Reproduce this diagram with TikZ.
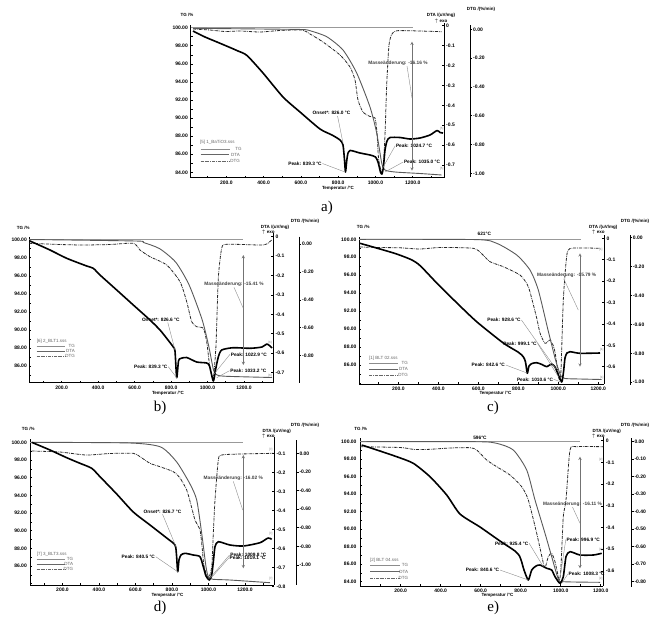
\documentclass[tikz,border=0pt]{standalone}
\usepackage{fontspec}
\setmainfont{Liberation Sans}
\newfontfamily\capfont{Liberation Serif}
\usepackage{tikz}

\begin{document}
\begin{tikzpicture}
[x=1pt,y=-1pt]
\tikzstyle{tick label}=[font=\bfseries\fontsize{5}{6}\selectfont,inner sep=0pt]
\tikzstyle{axis title}=[font=\bfseries\fontsize{4.5}{5}\selectfont,inner sep=0pt]
\tikzstyle{peak label}=[font=\bfseries\fontsize{4.8}{6}\selectfont,inner sep=0.6pt]
\tikzstyle{legend text}=[font=\fontsize{4.5}{5}\selectfont,inner sep=0pt,text=black!60]
\tikzstyle{file mark}=[font=\fontsize{3}{3}\selectfont,inner sep=0pt,text=black!50]
\tikzstyle{panel label}=[font=\capfont\fontsize{15}{16}\selectfont,inner sep=0pt]
\tikzstyle{axis line}=[line width=0.6pt]
\tikzstyle{dtg axis}=[line width=1pt]
\tikzstyle{base line}=[black!40,line width=0.7pt]
\tikzstyle{tg curve}=[black!65,line width=0.9pt,line join=round]
\tikzstyle{dta curve}=[black,line width=1.6pt,line join=round]
\tikzstyle{dtg curve}=[black!85,line width=0.8pt,dash pattern=on 3pt off 1pt on 0.6pt off 1pt]
\tikzstyle{lead line}=[black!45,line width=0.4pt]
\tikzstyle{mass arrow}=[black!55,line width=0.5pt,<->,>=stealth]
\tikzstyle{leg tg}=[black!45,line width=0.5pt]
\tikzstyle{leg dta}=[black!60,line width=1pt]
\tikzstyle{leg dtg}=[black!60,line width=0.5pt,dash pattern=on 3pt off 1pt on 0.6pt off 1pt]

\useasboundingbox (0,0) rectangle (656,622);

% a)
\draw[axis line] (190.5,25) -- (190.5,177.7) -- (444,177.7);
\draw[axis line] (444,23) -- (444,177.7);
\draw[dtg axis] (470,25) -- (470,177);
\foreach \i in {0,...,16} \draw[axis line] (190.5,{27.7+9.04*\i}) -- ++(2,0);
\foreach \tc in {100,200,...,1300} \draw[axis line] ({189+0.1865*\tc},177.7) -- ++(0,-2);
\foreach \lab [count=\i from 0] in {100.00,98.00,96.00,94.00,92.00,90.00,88.00,86.00,84.00}
  \node[tick label,anchor=east] (atl\i) at (188,{27.7+18.08*\i}) {\lab};
\foreach \tc in {200,400,...,1200}
  \node[tick label] (ax\tc) at ({189+0.1865*\tc},183) {\tc.0};
\foreach \lab [count=\i from 0] in {0,-0.1,-0.2,-0.3,-0.4,-0.5,-0.6,-0.7}{
  \draw[axis line] (444,{25.7+19.9*\i}) -- ++(-2,0);
  \node[tick label,anchor=west] (ada\i) at (446,{25.7+19.9*\i}) {\lab};}
\foreach \lab [count=\i from 0] in {0.00,-0.20,-0.40,-0.60,-0.80,-1.00}{
  \draw[axis line] (470,{29.3+28.8*\i}) -- ++(2,0);
  \node[tick label,anchor=west] (adg\i) at (473,{29.3+28.8*\i}) {\lab};}
\node[axis title] (atg) at (187,15) {TG /\%};
\node[axis title] (atemp) at (338,188.5) {Temperatur /°C};
\node[axis title] (adtg) at (481,9.5) {DTG /(\%/min)};
\node[axis title] (adta) at (441,15.5) {DTA /(uV/mg)};
\node[axis title] (aexo) at (441,21) {$\uparrow$ exo};

\draw[base line] (190.5,27.7) -- (413,27.7);
\draw[dtg curve] plot[smooth,tension=0.4] coordinates {(193,29) (210,30) (225,31.5) (240,31) (260,32) (280,30.5) (302,30) (310,34) (323,42) (340,55) (350,67) (355,80) (358,100) (363,112) (370,116.5) (375,118) (377,133) (378.5,158) (381,171) (383,170) (385,135) (386.7,85) (389,45) (392,34) (397,30.7) (420,31) (441.7,31.7)};
\draw[tg curve] plot[smooth,tension=0.4] coordinates {(193,28.3) (260,29) (302,29.5) (310,30.7) (326.7,36.7) (343,50) (356.7,73) (370,107) (376.7,133) (381.7,163) (385,170) (395,172) (420,173.5) (441.7,175)};
\draw[dta curve] plot[smooth,tension=0.4] coordinates {(193,31) (205,37) (217,42) (230,47.5) (238,51) (247,55.5) (263,73) (283,97) (300,112) (320,129) (332,135) (340,140) (343,145) (344.5,160) (345.5,172) (346.8,160) (348,153) (350,150.5) (353,151) (360,153) (370,155) (375.5,157) (378,162) (380.5,172) (382,174) (383.5,166) (385,150) (387,141) (390,137.5) (400,137.5) (410,139) (420,138) (430,135) (437,130.5) (440,132.5) (443,133)};

\node[peak label] (aon) at (331.5,113.3) {Onset*: 826.0 °C};
\coordinate (aonp) at (343,143);
\draw[lead line] ([xshift=6pt]aon.south) -- (aonp);
\node[peak label] (apk1) at (305,163.5) {Peak: 839.3 °C};
\coordinate (apk1p) at (345,172);
\draw[lead line] (apk1.east) -- (apk1p);
\node[peak label] (apk2) at (414,145.7) {Peak: 1024.7 °C};
\coordinate (apk2p) at (381.5,170);
\draw[lead line] (apk2.west) -- (apk2p);
\node[peak label] (apk3) at (422,162) {Peak: 1035.0 °C};
\coordinate (apk3p) at (385,172);
\draw[lead line] (apk3.west) -- (apk3p);
\coordinate (amt) at (412,41.7);
\coordinate (amb) at (412,170.7);
\draw[mass arrow] (amt) -- (amb);
\node[peak label,text=black!75] (amass) at (398,63) {Masseänderung: -16.16 \%};
\coordinate (amassp) at (412,98);
\draw[lead line] ([xshift=9pt]amass.south) -- (amassp);
\node[legend text,anchor=west] (aleg) at (200,142.7) {[5] 1\_BaTiO3.sss};
\draw[leg tg] (200.7,149) -- (230,149);
\draw[leg dta] (200.7,154.7) -- (229,154.7);
\draw[leg dtg] (200.7,161) -- (229,161);
\node[legend text,anchor=east] (alegtg) at (241.7,148.5) {TG};
\node[legend text,anchor=east] (alegdta) at (240,154.5) {DTA};
\node[legend text,anchor=east] (alegdtg) at (240,160.5) {DTG};
\node[file mark] (am1) at (441.7,128.3) {[5]};
\node[file mark] (am2) at (441.7,168.3) {[5]};
\node[panel label] (alab) at (327,208) {a)};

% b)
\draw[axis line] (29.3,237) -- (29.3,382.5) -- (273.3,382.5);
\draw[axis line] (273.3,233) -- (273.3,382.5);
\draw[dtg axis] (299.3,236.7) -- (299.3,382.7);
\foreach \i in {0,...,15} \draw[axis line] (29.3,{239.7+9.04*\i}) -- ++(2,0);
\foreach \tc in {100,200,...,1300} \draw[axis line] ({25.2+0.1823*\tc},382.5) -- ++(0,-2);
\foreach \lab [count=\i from 0] in {100.00,98.00,96.00,94.00,92.00,90.00,88.00,86.00}
  \node[tick label,anchor=east] (btl\i) at (27,{239.7+18.08*\i}) {\lab};
\foreach \tc in {200,400,...,1200}
  \node[tick label] (bx\tc) at ({25.2+0.1823*\tc},388) {\tc.0};
\foreach \lab [count=\i from 0] in {0,-0.1,-0.2,-0.3,-0.4,-0.5,-0.6,-0.7}{
  \draw[axis line] (273.3,{236.7+19.4*\i}) -- ++(-2,0);
  \node[tick label,anchor=west] (bda\i) at (275.5,{236.7+19.4*\i}) {\lab};}
\foreach \lab [count=\i from 0] in {0.00,-0.20,-0.40,-0.60,-0.80}{
  \draw[axis line] (299.3,{244+27.9*\i}) -- ++(2,0);
  \node[tick label,anchor=west] (bdg\i) at (302,{244+27.9*\i}) {\lab};}
\node[axis title] (btg) at (23.3,227.7) {TG /\%};
\node[axis title] (btemp) at (168,393.5) {Temperatur /°C};
\node[axis title] (bdtg) at (305,221) {DTG /(\%/min)};
\node[axis title] (bdta) at (275,227.3) {DTA /(uV/mg)};
\node[axis title] (bexo) at (268.3,232.7) {$\uparrow$ exo};

\draw[base line] (29.3,239.5) -- (243.3,239.5);
\draw[dtg curve] plot[smooth,tension=0.4] coordinates {(29.3,243.3) (60,244.5) (83.3,245) (110,244.5) (133.3,243.3) (140,250) (150,256.7) (166.7,265) (180,281.7) (186.7,301.7) (191.7,321.7) (196.7,326.7) (203.3,328.3) (206.7,341.7) (210,368.3) (213.3,377.7) (216,345) (218.3,278.3) (221.7,248.3) (226.7,244.3) (260,245) (266.7,244) (271.7,240)};
\draw[tg curve] plot[smooth,tension=0.4] coordinates {(29.3,239.5) (135.7,241) (143.5,242.5) (159.7,248.7) (175.8,262.3) (189.1,284.9) (202,319.3) (208.6,345.5) (213.5,370) (217,375) (226.6,376.3) (272,377.5)};
\draw[dta curve] plot[smooth,tension=0.4] coordinates {(29.3,240.7) (50,250) (66.7,258.3) (86.7,266) (93.3,268.3) (100,275) (116.7,290) (133.3,305) (150,320) (160,330) (168,340) (173.3,347) (175,351) (176.7,377.7) (178.5,361) (180.5,358.5) (186.7,357.5) (196.7,362) (206.7,363) (209.5,366) (213.3,381) (215.5,370) (218.3,357) (221.7,350) (233.3,347.7) (250,348.3) (262,347) (266.7,344) (270,346) (272,348)};

\node[peak label] (bon) at (160.8,320) {Onset*: 826.6 °C};
\coordinate (bonp) at (175,350);
\draw[lead line] ([xshift=7pt]bon.south) -- (bonp);
\node[peak label] (bpk1) at (150.8,366.7) {Peak: 839.3 °C};
\coordinate (bpk1p) at (176.7,377.7);
\draw[lead line] (bpk1.east) -- (bpk1p);
\node[peak label] (bpk2) at (248.8,354.3) {Peak: 1022.9 °C};
\coordinate (bpk2p) at (213.3,375);
\draw[lead line] (bpk2.west) -- (bpk2p);
\node[peak label] (bpk3) at (248.3,370.7) {Peak: 1033.2 °C};
\coordinate (bpk3p) at (216.7,377.7);
\draw[lead line] (bpk3.west) -- (bpk3p);
\coordinate (bmt) at (243.3,255);
\coordinate (bmb) at (243.3,365);
\draw[mass arrow] (bmt) -- (bmb);
\node[peak label,text=black!75] (bmass) at (234,284.3) {Masseänderung: -15.41 \%};
\coordinate (bmassp) at (243.3,308.3);
\draw[lead line] (bmass.south) -- (bmassp);
\node[legend text,anchor=west] (bleg) at (36.7,341) {[6] 2\_BLT1.sss};
\draw[leg tg] (36.7,346) -- (65,346);
\draw[leg dta] (36.7,351) -- (65,351);
\draw[leg dtg] (36.7,356) -- (65,356);
\node[legend text,anchor=east] (blegtg) at (75,345.5) {TG};
\node[legend text,anchor=east] (blegdta) at (75,350.7) {DTA};
\node[legend text,anchor=east] (blegdtg) at (75,355.8) {DTG};
\node[file mark] (bm1) at (270,342.3) {[6]};
\node[file mark] (bm2) at (270,376) {[6]};
\node[panel label] (blab) at (160,408) {b)};

% c)
\draw[axis line] (359.3,237) -- (359.3,384.3) -- (604,384.3);
\draw[axis line] (604,235) -- (604,384.3);
\draw[dtg axis] (630,235) -- (630,385);
\foreach \i in {0,...,16} \draw[axis line] (359.3,{239.3+8.98*\i}) -- ++(2,0);
\foreach \tc in {100,200,...,1200} \draw[axis line] ({358.3+0.2*\tc},384.3) -- ++(0,-2);
\foreach \lab [count=\i from 0] in {100.00,98.00,96.00,94.00,92.00,90.00,88.00,86.00}
  \node[tick label,anchor=east] (ctl\i) at (356.7,{239.3+17.96*\i}) {\lab};
\foreach \tc in {200,400,...,1200}
  \node[tick label] (cx\tc) at ({358.3+0.2*\tc},388.8) {\tc.0};
\foreach \lab [count=\i from 0] in {0,-0.1,-0.2,-0.3,-0.4,-0.5,-0.6}{
  \draw[axis line] (604,{238.3+21.4*\i}) -- ++(-2,0);
  \node[tick label,anchor=west] (cda\i) at (606.5,{238.3+21.4*\i}) {\lab};}
\foreach \lab [count=\i from 0] in {0.00,-0.20,-0.40,-0.60,-0.80,-1.00}{
  \draw[axis line] (630,{237.7+28.9*\i}) -- ++(2,0);
  \node[tick label,anchor=west] (cdg\i) at (632.7,{237.7+28.9*\i}) {\lab};}
\node[axis title] (ctg) at (363.3,226.7) {TG /\%};
\node[axis title] (ctemp) at (495.5,393.5) {Temperatur /°C};
\node[axis title] (cdtg) at (635,221) {DTG /(\%/min)};
\node[axis title] (cdta) at (603.3,227.3) {DTA /(uV/mg)};
\node[axis title] (cexo) at (598.3,232.3) {$\uparrow$ exo};
\node[peak label] (conset) at (484.3,234) {621°C};

\draw[base line] (359.3,239.3) -- (580.7,239.3);
\draw[dtg curve] plot[smooth,tension=0.4] coordinates {(360,247) (380,247.5) (400,247.8) (420,249) (440,247.5) (473.3,248.3) (482,254) (490,261.7) (503.3,266.7) (520,275) (527,284) (530,292) (536.7,318) (540,333) (545,343.3) (550,340) (553,345) (555,352) (558,372) (559.3,380) (561,370) (563.3,300) (566.7,256) (570,248.5) (585,248) (600,248.3)};
\draw[tg curve] plot[smooth,tension=0.4] coordinates {(360,239.3) (476.7,239.6) (496.7,243.3) (516.7,255) (530,270) (538.3,290) (548,330) (555,358) (558.3,369) (561,376) (565,378.5) (580,379) (601.7,379.5)};
\draw[dta curve] plot[smooth,tension=0.4] coordinates {(360,243.3) (380,249) (396.7,254) (412,260) (420.5,266) (437.7,284) (459,305) (477,322) (503.3,343) (518,352) (523.3,356.7) (525.5,362) (527.3,373.3) (529,366) (532,363.5) (536.7,362.7) (542,364.5) (546.7,366.7) (551.7,364) (555,367) (558,374) (561.7,382) (563.5,372) (565,358) (567,353) (570,351.7) (580,353.3) (600,353)};

\node[peak label] (cpk1) at (504,320) {Peak: 928.6 °C};
\coordinate (cpk1p) at (556,369);
\draw[lead line] (cpk1.east) -- (cpk1p);
\node[peak label] (cpk2) at (520,343.3) {Peak: 999.1 °C};
\coordinate (cpk2p) at (558.5,377);
\draw[lead line] (cpk2.east) -- (cpk2p);
\node[peak label] (cpk3) at (488.3,365) {Peak: 842.6 °C};
\coordinate (cpk3p) at (527,373);
\draw[lead line] (cpk3.east) -- (cpk3p);
\node[peak label] (cpk4) at (535,379.3) {Peak: 1010.6 °C};
\coordinate (cpk4p) at (561,382);
\draw[lead line] (cpk4.east) -- (cpk4p);
\coordinate (cmt) at (580,253.3);
\coordinate (cmb) at (580,366.7);
\draw[mass arrow] (cmt) -- (cmb);
\node[peak label,text=black!75] (cmass) at (566.7,275.7) {Masseänderung: -15.79 \%};
\coordinate (cmassp) at (578.3,310);
\draw[lead line] ([xshift=-3pt]cmass.south) -- (cmassp);
\node[legend text,anchor=west] (cleg) at (369,358.3) {[1] BLT 02.sss};
\draw[leg tg] (369,363.3) -- (398,363.3);
\draw[leg dta] (369,369) -- (398,369);
\draw[leg dtg] (369,375) -- (398,375);
\node[legend text,anchor=east] (clegtg) at (408,363) {TG};
\node[legend text,anchor=east] (clegdta) at (408,368.8) {DTA};
\node[legend text,anchor=east] (clegdtg) at (408,374.8) {DTG};
\node[file mark] (cm1) at (600.7,250) {[1]};
\node[file mark] (cm2) at (601.7,350) {[1]};
\node[file mark] (cm3) at (601.7,377.3) {[1]};
\node[panel label] (clab) at (493,408) {c)};

% d)
\draw[axis line] (30,439) -- (30,585) -- (274,585);
\draw[axis line] (274,437) -- (274,585);
\draw[dtg axis] (296.7,440) -- (296.7,585);
\foreach \i in {0,...,16} \draw[axis line] (30,{442.3+8.84*\i}) -- ++(2,0);
\foreach \tc in {100,200,...,1300} \draw[axis line] ({26+0.1825*\tc},585) -- ++(0,-2);
\foreach \lab [count=\i from 0] in {100.00,98.00,96.00,94.00,92.00,90.00,88.00,86.00}
  \node[tick label,anchor=east] (dtl\i) at (27,{442.3+17.68*\i}) {\lab};
\foreach \tc in {200,400,...,1200}
  \node[tick label] (dx\tc) at ({26+0.1825*\tc},589.8) {\tc.0};
\foreach \lab [count=\i from 0] in {-0.1,-0.2,-0.3,-0.4,-0.5,-0.6,-0.7,-0.8}{
  \draw[axis line] (274,{453.3+19*\i}) -- ++(-2,0);
  \node[tick label,anchor=west] (dda\i) at (276.5,{453.3+19*\i}) {\lab};}
\foreach \lab [count=\i from 0] in {0.00,-0.20,-0.40,-0.60,-0.80,-0.80,-1.00}{
  \draw[axis line] (296.7,{453.3+18.6*\i}) -- ++(2,0);
  \node[tick label,anchor=west] (ddg\i) at (299.3,{453.3+18.6*\i}) {\lab};}
\node[axis title] (dtg) at (28.3,429.3) {TG /\%};
\node[axis title] (dtemp) at (167.5,595.3) {Temperatur /°C};
\node[axis title] (ddtg) at (305,425) {DTG /(\%/min)};
\node[axis title] (ddta) at (276.7,431) {DTA /(uV/mg)};
\node[axis title] (dexo) at (268.3,436) {$\uparrow$ exo};

\draw[base line] (30,442.3) -- (243.3,442.3);
\draw[dtg curve] plot[smooth,tension=0.4] coordinates {(31.7,451) (60,452) (86,455) (110,453.5) (133.3,453.3) (140,456.7) (150,463.3) (160,466.7) (173.3,471.7) (180,478) (186.7,490) (191,505) (195,520) (200,530) (202,546) (204,566) (208.3,578.3) (211.7,566.7) (213.3,533.3) (215,500) (218.3,460) (221.7,455) (240,454) (273.3,453.3)};
\draw[tg curve] plot[smooth,tension=0.4] coordinates {(31.7,442.3) (130,443) (160.7,447) (176.7,462) (190,484) (196.7,500) (201.7,533.3) (206,566.7) (208.5,577) (213.3,579.3) (230,580) (270,582.7)};
\draw[dta curve] plot[smooth,tension=0.4] coordinates {(31.7,442.3) (50,450) (66.7,457.7) (80,463.3) (91.7,468.3) (100,476.7) (116.7,494) (133.3,512) (150,525) (166.7,538) (175,545) (176.5,555) (177.7,571.7) (179,560) (181,555) (185,553.3) (193.3,555) (200,556.7) (203.3,566.7) (206,576) (209.3,580) (211.7,575) (213.5,560) (215,546.7) (218.3,541.7) (230,545) (243.3,546) (260,542.7) (268,538) (271.7,539.3)};

\node[peak label] (don) at (162.5,511.7) {Onset*: 826.7 °C};
\coordinate (donp) at (176,546.7);
\draw[lead line] (don.south) -- (donp);
\node[peak label] (dpk1) at (138.3,556.7) {Peak: 840.5 °C};
\coordinate (dpk1p) at (177.7,571.7);
\draw[lead line] (dpk1.east) -- (dpk1p);
\node[peak label] (dpk2) at (248.3,555) {Peak: 1009.8 °C};
\coordinate (dpk2p) at (210,578);
\draw[lead line] (dpk2.west) -- (dpk2p);
\node[peak label] (dpk3) at (247.7,557.8) {Peak: 1019.1 °C};
\coordinate (dpk3p) at (212,577);
\draw[lead line] (dpk3.west) -- (dpk3p);
\coordinate (dmt) at (243.3,455);
\coordinate (dmb) at (243.3,568.3);
\draw[mass arrow] (dmt) -- (dmb);
\node[peak label,text=black!75] (dmass) at (233.3,478.3) {Masseänderung: -16.02 \%};
\coordinate (dmassp) at (242.7,510);
\draw[lead line] (dmass.south) -- (dmassp);
\node[legend text,anchor=west] (dleg) at (36.7,554) {[7] 3\_BLT3.sss};
\draw[leg tg] (36.7,559) -- (65,559);
\draw[leg dta] (36.7,564.3) -- (65,564.3);
\draw[leg dtg] (36.7,569.3) -- (65,569.3);
\node[legend text,anchor=east] (dlegtg) at (73.3,558.6) {TG};
\node[legend text,anchor=east] (dlegdta) at (73.3,564) {DTA};
\node[legend text,anchor=east] (dlegdtg) at (73.3,569) {DTG};
\node[file mark] (dm1) at (270.7,449.3) {[7]};
\node[file mark] (dm2) at (270.7,533.3) {[7]};
\node[file mark] (dm3) at (270.7,578.3) {[7]};
\node[panel label] (dlab) at (160,608) {d)};

% e)
\draw[axis line] (360,438) -- (360,586) -- (603.3,586);
\draw[axis line] (603.3,437) -- (603.3,586);
\draw[dtg axis] (631.7,438) -- (631.7,586.7);
\foreach \i in {0,...,16} \draw[axis line] (360,{441.7+8.75*\i}) -- ++(2,0);
\foreach \tc in {100,200,...,1200} \draw[axis line] ({360.7+0.2*\tc},586) -- ++(0,-2);
\foreach \lab [count=\i from 0] in {100.00,98.00,96.00,94.00,92.00,90.00,88.00,86.00,84.00}
  \node[tick label,anchor=east] (etl\i) at (356.7,{441.7+17.5*\i}) {\lab};
\foreach \tc in {200,400,...,1200}
  \node[tick label] (ex\tc) at ({360.7+0.2*\tc},590.5) {\tc.0};
\foreach \lab [count=\i from 0] in {0,-0.1,-0.2,-0.3,-0.4,-0.5,-0.6}{
  \draw[axis line] (603.3,{440.7+21.7*\i}) -- ++(-2,0);
  \node[tick label,anchor=west] (eda\i) at (605.7,{440.7+21.7*\i}) {\lab};}
\foreach \lab [count=\i from 0] in {0.00,-0.10,-0.20,-0.30,-0.40,-0.50,-0.60,-0.70,-0.80}{
  \draw[axis line] (631.7,{441.7+17.5*\i}) -- ++(2,0);
  \node[tick label,anchor=west] (edg\i) at (634.3,{441.7+17.5*\i}) {\lab};}
\node[axis title] (etg) at (360.7,429.3) {TG /\%};
\node[axis title] (etemp) at (497.5,595.5) {Temperatur /°C};
\node[axis title] (edtg) at (635,425) {DTG /(\%/min)};
\node[axis title] (edta) at (606.7,431) {DTA /(uV/mg)};
\node[axis title] (eexo) at (598.3,436) {$\uparrow$ exo};
\node[peak label] (eonset) at (480,437.7) {596°C};

\draw[base line] (360,441.7) -- (580,441.7);
\draw[dtg curve] plot[smooth,tension=0.4] coordinates {(360,446.7) (400,447.5) (415,449.5) (430,449.3) (450,448) (470,447.7) (476.7,450) (486.7,460) (496.7,466.7) (510,475) (521.7,486.7) (528.3,500) (536.7,533.3) (543.3,563) (545,568.3) (548.3,556.7) (551.7,553.3) (555,561.7) (559.3,580) (561,566.7) (563.3,516.7) (566,500) (570,450) (576.7,446.7) (603.3,446.7)};
\draw[tg curve] plot[smooth,tension=0.4] coordinates {(361,441.7) (476.7,441.7) (496.7,443.3) (513.3,450) (526.7,470) (535,500) (545,533.3) (551.7,556.7) (558.3,579) (563.3,581.7) (600,582.3)};
\draw[dta curve] plot[smooth,tension=0.4] coordinates {(361.7,445) (380,451) (396.7,456.7) (413.3,463.3) (430,476.7) (446.7,495) (460,514) (480,527) (500,541) (515,551) (519.5,556) (521.7,562) (524,570) (528.3,580) (531.7,570) (536,566) (540,565) (546.7,568.3) (551.7,570) (555,576.7) (560,583.3) (563.3,576.7) (566,556.7) (570,551.7) (580,555) (593.3,555) (601.7,553.3)};

\node[peak label] (epk1) at (511.7,543.3) {Peak: 925.4 °C};
\coordinate (epk1p) at (543.3,566.7);
\draw[lead line] (epk1.east) -- (epk1p);
\node[peak label] (epk2) at (583.3,539.3) {Peak: 996.9 °C};
\coordinate (epk2p) at (560,578.3);
\draw[lead line] (epk2.west) -- (epk2p);
\node[peak label] (epk3) at (482.5,570) {Peak: 840.6 °C};
\coordinate (epk3p) at (528.3,580);
\draw[lead line] (epk3.east) -- (epk3p);
\node[peak label] (epk4) at (586.7,574) {Peak: 1008.3 °C};
\coordinate (epk4p) at (561.7,583.3);
\draw[lead line] (epk4.west) -- (epk4p);
\coordinate (emt) at (580,456.7);
\coordinate (emb) at (580,568.3);
\draw[mass arrow] (emt) -- (emb);
\node[peak label,text=black!75] (emass) at (572.5,504) {Masseänderung: -16.11 \%};
\coordinate (emassp) at (580,523.3);
\draw[lead line] (emass.south) -- (emassp);
\node[legend text,anchor=west] (eleg) at (370,560.7) {[2] BLT 04.sss};
\draw[leg tg] (370,565.7) -- (400,565.7);
\draw[leg dta] (370,571.7) -- (400,571.7);
\draw[leg dtg] (370,578.3) -- (400,578.3);
\node[legend text,anchor=east] (elegtg) at (408.3,565.3) {TG};
\node[legend text,anchor=east] (elegdta) at (408.3,571.5) {DTA};
\node[legend text,anchor=east] (elegdtg) at (408.3,578) {DTG};
\node[file mark] (em1) at (600.7,459.3) {[2]};
\node[file mark] (em2) at (600.7,550) {[2]};
\node[file mark] (em3) at (600.7,578.3) {[2]};
\node[panel label] (elab) at (493.3,608) {e)};
\end{tikzpicture}
\end{document}
